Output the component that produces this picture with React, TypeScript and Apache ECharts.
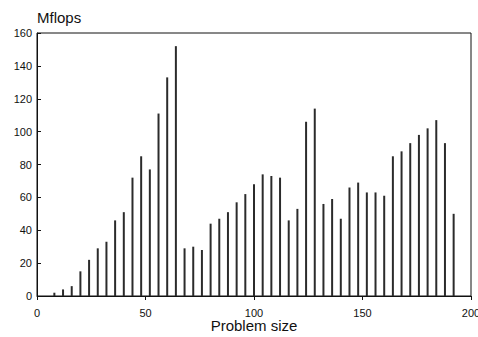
import React, { useEffect, useRef } from "react";
import * as echarts from "echarts";

const problemSizes = [
  8, 12, 16, 20, 24, 28, 32, 36, 40, 44, 48, 52, 56, 60, 64, 68, 72, 76, 80, 84,
  88, 92, 96, 100, 104, 108, 112, 116, 120, 124, 128, 132, 136, 140, 144, 148,
  152, 156, 160, 164, 168, 172, 176, 180, 184, 188, 192,
];
const mflops = [
  2, 4, 6, 15, 22, 29, 33, 46, 51, 72, 85, 77, 111, 133, 152, 29, 30, 28, 44, 47,
  51, 57, 62, 68, 74, 73, 72, 46, 53, 106, 114, 56, 59, 47, 66, 69, 63, 63, 61,
  85, 88, 93, 98, 102, 107, 93, 50,
];
const yTitle = "Mflops";
const xTitle = "Problem size";

const FONT = "'Liberation Sans', Arial, Helvetica, sans-serif";

export default function App() {
  const ref = useRef<HTMLDivElement>(null);
  useEffect(() => {
    if (!ref.current) return;
    const chart = echarts.init(ref.current, null, { renderer: "svg" });
    const data = problemSizes.map((x, i) => [x, mflops[i]]);
    chart.setOption({
      animation: false,
      backgroundColor: "#ffffff",
      title: {
        text: yTitle,
        left: 37,
        top: 10,
        padding: 0,
        textStyle: { fontFamily: FONT, fontSize: 15, fontWeight: "normal", color: "#111" },
      },
      grid: {
        left: 37,
        right: 7,
        top: 33,
        bottom: 41,
        containLabel: false,
        outerBoundsMode: "none",
        show: true,
        borderColor: "#111",
        borderWidth: 1,
        backgroundColor: "transparent",
      },
      xAxis: {
        type: "value",
        min: 0,
        max: 200,
        interval: 50,
        name: xTitle,
        nameLocation: "middle",
        nameGap: 22,
        nameMoveOverlap: false,
        nameTextStyle: { fontFamily: FONT, fontSize: 15, lineHeight: 15, color: "#111" },
        axisLine: { show: true, lineStyle: { color: "#111", width: 1 } },
        axisTick: { show: true, inside: false, length: 4, lineStyle: { color: "#111" } },
        axisLabel: { fontFamily: FONT, fontSize: 11, lineHeight: 11, color: "#111", margin: 11 },
        splitLine: { show: false },
      },
      yAxis: {
        type: "value",
        min: 0,
        max: 160,
        interval: 20,
        axisLine: { show: true, lineStyle: { color: "#111", width: 1 } },
        axisTick: { show: true, inside: true, length: 4, lineStyle: { color: "#111" } },
        axisLabel: { fontFamily: FONT, fontSize: 11, color: "#111", margin: 5 },
        splitLine: { show: false },
      },
      series: [
        {
          type: "bar",
          data,
          barWidth: 2,
          itemStyle: { color: "#2b2b2b" },
        },
      ],
    });
    return () => chart.dispose();
  }, []);
  return (
    <div
      ref={ref}
      style={{ position: "fixed", left: 0, top: 0, width: 478, height: 337, background: "#fff" }}
    />
  );
}
